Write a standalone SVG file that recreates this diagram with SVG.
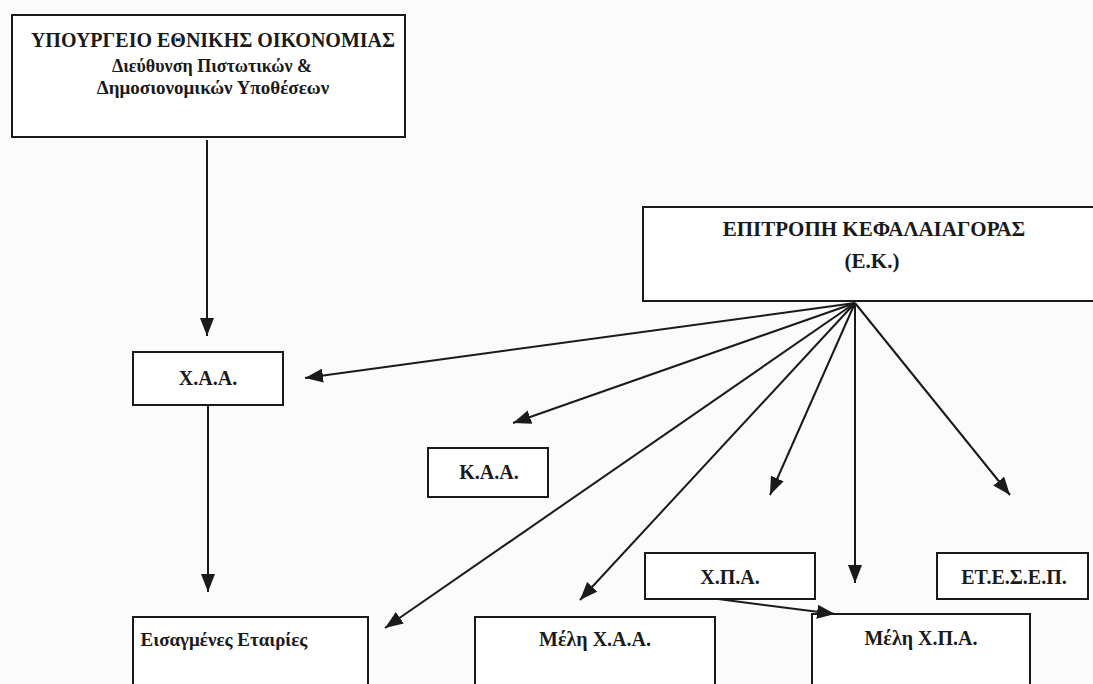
<svg xmlns="http://www.w3.org/2000/svg" width="1093" height="684" viewBox="0 0 1093 684">
<style>
.box{fill:#fff;stroke:#1a1a1a;stroke-width:2}
.t{font-family:"Liberation Serif","Times New Roman","DejaVu Serif",serif;font-weight:bold;fill:#1a1a1a;text-anchor:middle;font-size:20px}
.c{stroke:#1a1a1a;stroke-width:2;fill:none}
</style>
<defs>
<marker id="ah" viewBox="0 0 18 14" refX="18" refY="7" markerWidth="18" markerHeight="14" markerUnits="userSpaceOnUse" orient="auto">
<path d="M0,0 L18,7 L0,14 Z" fill="#1a1a1a"/>
</marker>
</defs>
<rect width="1093" height="684" fill="#fbfbfb"/>
<g id="ministry">
<rect class="box" x="12" y="15" width="393" height="122"/>
<text class="t" x="213" y="47">ΥΠΟΥΡΓΕΙΟ ΕΘΝΙΚΗΣ ΟΙΚΟΝΟΜΙΑΣ</text>
<text class="t" x="212" y="72" style="font-size:18px">Διεύθυνση Πιστωτικών &amp;</text>
<text class="t" x="213" y="94" style="font-size:19px">Δημοσιονομικών Υποθέσεων</text>
</g>
<g id="ek">
<rect class="box" x="643" y="207" width="452" height="94"/>
<text class="t" x="874" y="236" style="font-size:21px">ΕΠΙΤΡΟΠΗ ΚΕΦΑΛΑΙΑΓΟΡΑΣ</text>
<text class="t" x="872" y="268" style="font-size:21px">(Ε.Κ.)</text>
</g>
<g id="xaa">
<rect class="box" x="133" y="352" width="150" height="53"/>
<text class="t" x="208" y="385">Χ.Α.Α.</text>
</g>
<g id="kaa">
<rect class="box" x="428" y="448" width="120" height="49"/>
<text class="t" x="489" y="479">Κ.Α.Α.</text>
</g>
<g id="xpa">
<rect class="box" x="645" y="553" width="170" height="46"/>
<text class="t" x="730" y="584">Χ.Π.Α.</text>
</g>
<g id="etesep">
<rect class="box" x="937" y="553" width="151" height="46"/>
<text class="t" x="1014" y="584">ΕΤ.Ε.Σ.Ε.Π.</text>
</g>
<g id="eisagmenes">
<rect class="box" x="133" y="617" width="235" height="80"/>
<text class="t" x="224" y="646" style="font-size:19px">Εισαγμένες Εταιρίες</text>
</g>
<g id="meli-xaa">
<rect class="box" x="475" y="617" width="240" height="80"/>
<text class="t" x="595" y="646">Μέλη Χ.Α.Α.</text>
</g>
<g id="meli-xpa">
<rect class="box" x="812" y="614" width="218" height="80"/>
<text class="t" x="921" y="645">Μέλη Χ.Π.Α.</text>
</g>
<g id="connectors">
<line class="c" x1="207" y1="140" x2="207" y2="336" marker-end="url(#ah)"/>
<line class="c" x1="208" y1="405" x2="208" y2="592" marker-end="url(#ah)"/>
<line class="c" x1="855" y1="303" x2="305" y2="378" marker-end="url(#ah)"/>
<line class="c" x1="855" y1="303" x2="513" y2="423" marker-end="url(#ah)"/>
<line class="c" x1="855" y1="303" x2="385" y2="628" marker-end="url(#ah)"/>
<line class="c" x1="855" y1="303" x2="580" y2="600" marker-end="url(#ah)"/>
<line class="c" x1="855" y1="303" x2="770" y2="495" marker-end="url(#ah)"/>
<line class="c" x1="855" y1="303" x2="855" y2="583" marker-end="url(#ah)"/>
<line class="c" x1="855" y1="303" x2="1010" y2="495" marker-end="url(#ah)"/>
<line class="c" x1="718" y1="599" x2="835" y2="614" marker-end="url(#ah)"/>
</g>
</svg>
